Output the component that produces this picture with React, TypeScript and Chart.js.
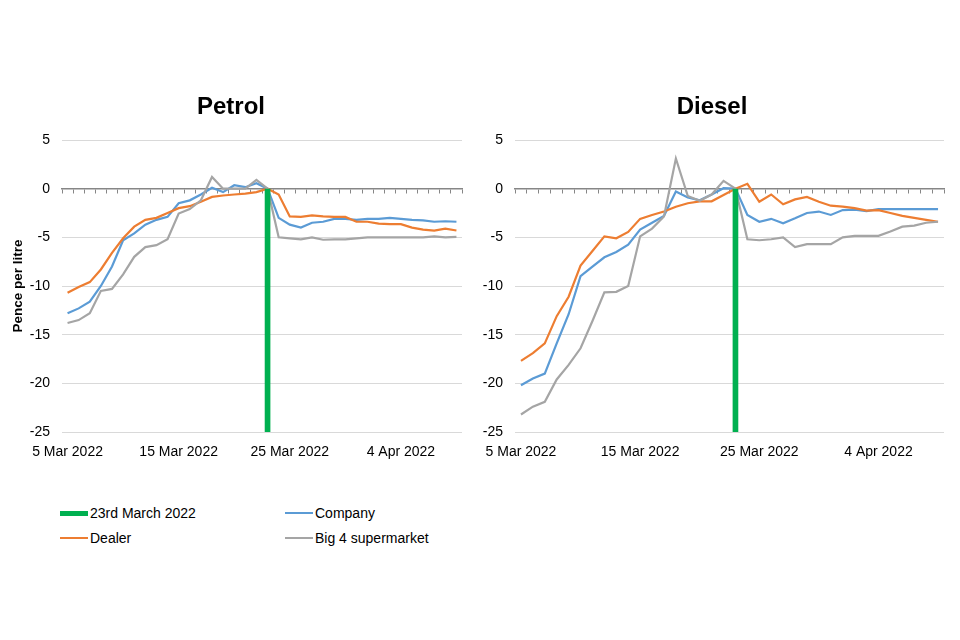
import { useEffect, useRef } from 'react';
import { Chart, registerables } from 'chart.js';

Chart.register(...registerables);

const dates = [
  '5 Mar 2022', '6 Mar 2022', '7 Mar 2022', '8 Mar 2022', '9 Mar 2022', '10 Mar 2022',
  '11 Mar 2022', '12 Mar 2022', '13 Mar 2022', '14 Mar 2022', '15 Mar 2022', '16 Mar 2022',
  '17 Mar 2022', '18 Mar 2022', '19 Mar 2022', '20 Mar 2022', '21 Mar 2022', '22 Mar 2022',
  '23 Mar 2022', '24 Mar 2022', '25 Mar 2022', '26 Mar 2022', '27 Mar 2022', '28 Mar 2022',
  '29 Mar 2022', '30 Mar 2022', '31 Mar 2022', '1 Apr 2022', '2 Apr 2022', '3 Apr 2022',
  '4 Apr 2022', '5 Apr 2022', '6 Apr 2022', '7 Apr 2022', '8 Apr 2022', '9 Apr 2022',
];

const tickLabels = ['5 Mar 2022', '15 Mar 2022', '25 Mar 2022', '4 Apr 2022'];

const markerDate = '23 Mar 2022';
const markerBottom = -25;

const yMin = -25;
const yMax = 5;
const yStep = 5;

const petrolCompany = [
  -12.8, -12.3, -11.6, -10.0, -8.0, -5.3, -4.6, -3.7, -3.2, -2.9, -1.5, -1.2,
  -0.6, 0.1, -0.35, 0.35, 0.15, 0.55, 0, -3.0, -3.7, -4.0, -3.5, -3.4,
  -3.1, -3.1, -3.2, -3.1, -3.1, -3.0, -3.1, -3.2, -3.25, -3.4, -3.35, -3.4,
];
const petrolDealer = [
  -10.7, -10.1, -9.6, -8.3, -6.6, -5.1, -3.9, -3.2, -3.0, -2.5, -2.0, -1.8,
  -1.35, -0.85, -0.7, -0.6, -0.5, -0.35, 0, -0.6, -2.85, -2.9, -2.75, -2.85,
  -2.9, -2.9, -3.4, -3.4, -3.6, -3.65, -3.65, -4.0, -4.2, -4.3, -4.1, -4.3,
];
const petrolBig4 = [
  -13.8, -13.5, -12.8, -10.5, -10.3, -8.8, -7.0, -6.0, -5.8, -5.2, -2.55, -2.1,
  -1.2, 1.2, 0, 0, 0, 0.9, 0, -5.0, -5.1, -5.2, -5.0, -5.25,
  -5.2, -5.2, -5.1, -5.0, -5.0, -5.0, -5.0, -5.0, -5.0, -4.9, -5.0, -4.95,
];

const dieselCompany = [
  -20.2, -19.5, -19.0, -15.9, -12.9, -9.0, -8.0, -7.05, -6.5, -5.75, -4.2, -3.5,
  -2.8, -0.3, -0.9, -1.2, -0.6, 0.05, 0, -2.7, -3.4, -3.1, -3.55, -3.05,
  -2.5, -2.35, -2.7, -2.2, -2.15, -2.3, -2.1, -2.1, -2.1, -2.1, -2.1, -2.1,
];
const dieselDealer = [
  -17.7, -16.9, -15.9, -13.1, -11.1, -7.9, -6.4, -4.9, -5.1, -4.45, -3.1, -2.7,
  -2.35, -1.85, -1.5, -1.3, -1.3, -0.65, 0, 0.5, -1.35, -0.6, -1.6, -1.1,
  -0.85, -1.35, -1.75, -1.85, -2.0, -2.25, -2.2, -2.5, -2.8, -3.0, -3.2, -3.4,
];
const dieselBig4 = [
  -23.2, -22.4, -21.9, -19.6, -18.1, -16.4, -13.6, -10.65, -10.6, -10.0, -4.9, -4.1,
  -2.85, 3.1, -0.75, -1.25, -0.6, 0.8, 0, -5.2, -5.3, -5.2, -5.0, -6.0,
  -5.7, -5.7, -5.7, -5.0, -4.85, -4.85, -4.85, -4.4, -3.9, -3.8, -3.5, -3.4,
];

const COLORS = {
  company: '#5B9BD5',
  dealer: '#ED7D31',
  big4: '#A5A5A5',
  marker: '#00B050',
  axis: '#868686',
  grid: '#D9D9D9',
  text: '#000000',
};

const FONT = "'Liberation Sans', Arial, Helvetica, sans-serif";

type FuelProps = {
  title: string;
  company: number[];
  dealer: number[];
  big4: number[];
  yTitle?: string;
  left: number;
  axisWidth: number;
  padRight: number;
};

function FuelChart({ title, company, dealer, big4, yTitle, left, axisWidth, padRight }: FuelProps) {
  const ref = useRef<HTMLCanvasElement>(null);

  useEffect(() => {
    if (!ref.current) return;
    Chart.defaults.font.family = FONT;
    const lineStyle = {
      type: 'line' as const,
      borderWidth: 2.2,
      pointRadius: 0,
      pointHoverRadius: 0,
      tension: 0,
      fill: false,
    };
    const chart = new Chart(ref.current, {
      type: 'line',
      data: {
        labels: dates,
        datasets: [
          {
            type: 'bar',
            label: '23rd March 2022',
            data: dates.map((d) => (d === markerDate ? markerBottom : null)),
            backgroundColor: COLORS.marker,
            barThickness: 5,
            order: 0,
          } as any,
          { ...lineStyle, label: 'Big 4 supermarket', data: big4, borderColor: COLORS.big4, backgroundColor: COLORS.big4, order: 1 },
          { ...lineStyle, label: 'Dealer', data: dealer, borderColor: COLORS.dealer, backgroundColor: COLORS.dealer, order: 2 },
          { ...lineStyle, label: 'Company', data: company, borderColor: COLORS.company, backgroundColor: COLORS.company, order: 3 },
        ],
      },
      options: {
        responsive: false,
        animation: false,
        events: [],
        layout: { padding: { left: 0, right: padRight, top: 0, bottom: 0 } },
        plugins: {
          legend: { display: false },
          tooltip: { enabled: false },
          title: {
            display: true,
            text: title,
            color: COLORS.text,
            font: { size: 24, weight: 'bold', family: FONT },
            padding: { top: 92.6, bottom: 18.6 },
          },
        },
        scales: {
          x: {
            type: 'category',
            offset: true,
            grid: { display: false },
            border: { display: false },
            ticks: {
              autoSkip: false,
              maxRotation: 0,
              minRotation: 0,
              padding: 4,
              color: COLORS.text,
              font: { size: 14, family: FONT },
              callback: (_v: any, i: number) => (tickLabels.includes(dates[i]) ? dates[i] : ''),
            },
            afterFit: (s: any) => {
              s.height = 48;
            },
          },
          x2: {
            type: 'category',
            axis: 'x',
            position: { y: 0 },
            offset: true,
            grid: {
              display: true,
              drawOnChartArea: false,
              drawTicks: true,
              tickLength: 4,
              color: COLORS.axis,
              lineWidth: 1,
              offset: true,
            },
            border: { display: true, color: COLORS.axis, width: 1.5 },
            ticks: { display: false },
          } as any,
          y: {
            min: yMin,
            max: yMax,
            ticks: {
              stepSize: yStep,
              padding: 12,
              color: COLORS.text,
              font: { size: 14, family: FONT },
            },
            grid: { color: COLORS.grid, lineWidth: 1, drawTicks: false },
            border: { display: false },
            title: yTitle
              ? {
                  display: true,
                  text: yTitle,
                  color: COLORS.text,
                  font: { size: 13.5, weight: 'bold', family: FONT },
                  padding: { top: 10, bottom: 0 },
                }
              : { display: false },
            afterFit: (s: any) => {
              s.width = axisWidth;
            },
          },
        },
      } as any,
    });
    return () => chart.destroy();
  }, []);

  return (
    <canvas
      ref={ref}
      width={480}
      height={480}
      style={{ position: 'absolute', left, top: 0, width: 480, height: 480 }}
    />
  );
}

const legendItems = [
  { label: '23rd March 2022', color: COLORS.marker, thick: 5, x: 60, y: 513 },
  { label: 'Company', color: COLORS.company, thick: 2, x: 285, y: 513 },
  { label: 'Dealer', color: COLORS.dealer, thick: 2.5, x: 60, y: 538 },
  { label: 'Big 4 supermarket', color: COLORS.big4, thick: 2.5, x: 285, y: 538 },
];

export default function App() {
  return (
    <div
      style={{
        position: 'absolute',
        left: 0,
        top: 0,
        width: 960,
        height: 640,
        background: '#ffffff',
        overflow: 'hidden',
        fontFamily: FONT,
      }}
    >
      <FuelChart
        title="Petrol"
        company={petrolCompany}
        dealer={petrolDealer}
        big4={petrolBig4}
        yTitle="Pence per litre"
        left={0}
        axisWidth={62}
        padRight={18}
      />
      <FuelChart
        title="Diesel"
        company={dieselCompany}
        dealer={dieselDealer}
        big4={dieselBig4}
        left={480}
        axisWidth={35}
        padRight={16}
      />
      {legendItems.map((it) => (
        <div
          key={it.label}
          style={{
            position: 'absolute',
            left: it.x,
            top: it.y - 10,
            height: 20,
            display: 'flex',
            alignItems: 'center',
            whiteSpace: 'nowrap',
          }}
        >
          <div style={{ width: 28, height: it.thick, background: it.color, marginRight: 2 }} />
          <span style={{ fontSize: 14, color: COLORS.text, lineHeight: '20px' }}>{it.label}</span>
        </div>
      ))}
    </div>
  );
}
